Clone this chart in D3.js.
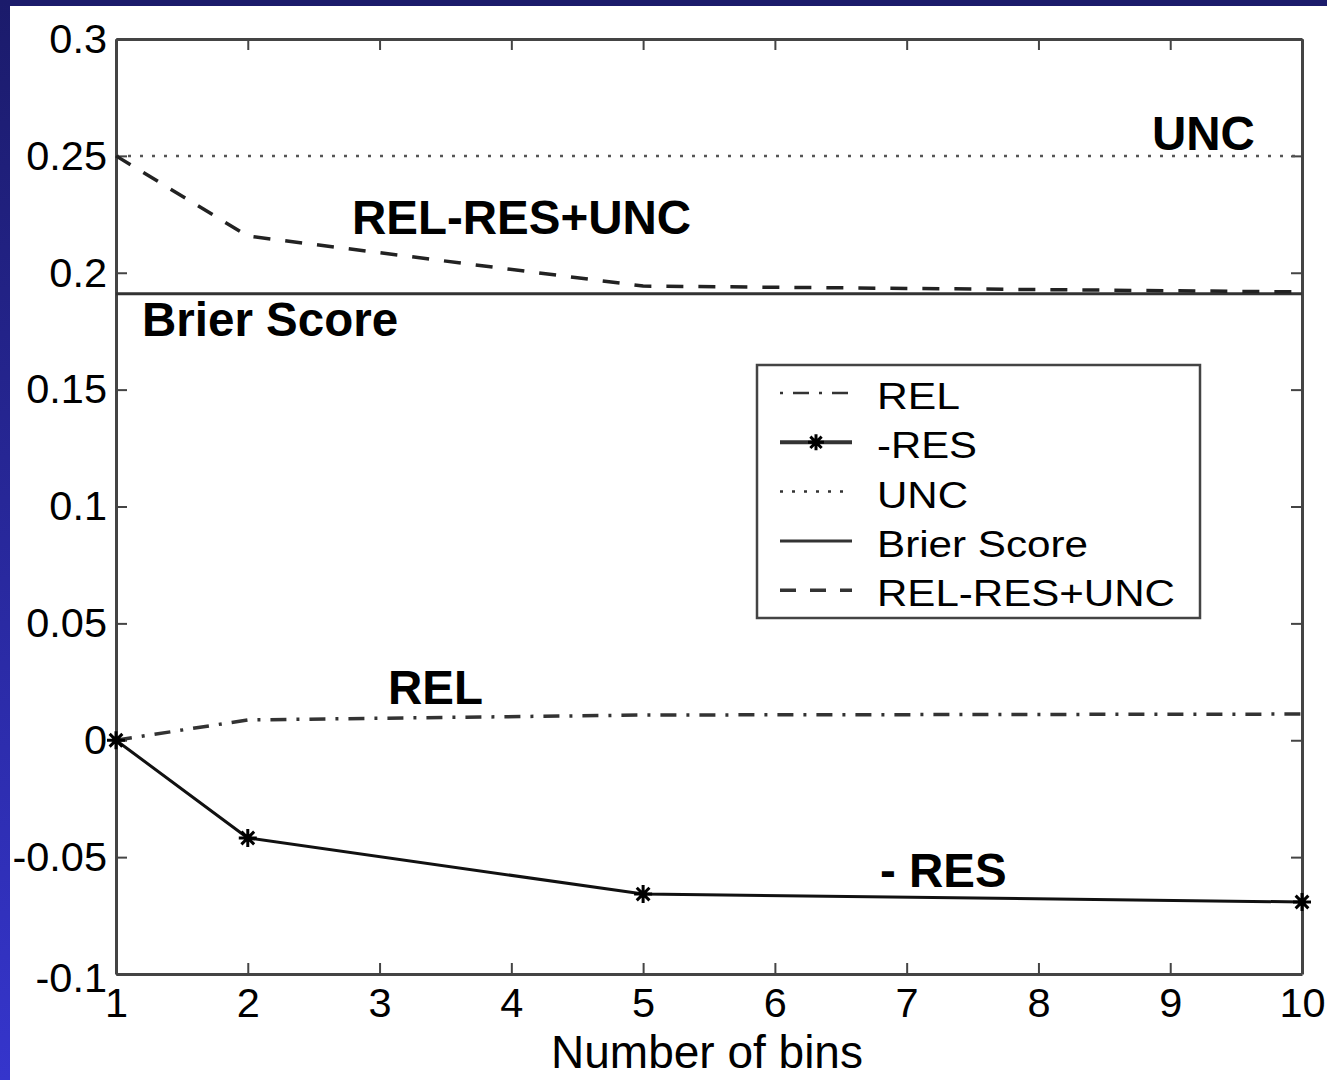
<!DOCTYPE html>
<html>
<head>
<meta charset="utf-8">
<script src="https://cdn.jsdelivr.net/npm/d3@7"></script>
<style>
  body { margin: 0; background: #fff; }
  svg { display: block; font-family: "Liberation Sans", Arial, sans-serif; }
</style>
</head>
<body>
<svg id="chart"></svg>
<script>
'use strict';

var width = 1327;
var height = 1080;

// data
var bins = [1, 2, 5, 10];
var rel_values = [0, 0.0087, 0.0108, 0.0112];
var res_values = [0, -0.0418, -0.0658, -0.0692];
var unc_values = [0.25, 0.25, 0.25, 0.25];
var brier_values = [0.191, 0.191, 0.191, 0.191];
var sum_values = [0.25, 0.2157, 0.1943, 0.1918];

var x_ticks = [1, 2, 3, 4, 5, 6, 7, 8, 9, 10];
var y_ticks = [-0.1, -0.05, 0, 0.05, 0.1, 0.15, 0.2, 0.25, 0.3];
var y_tick_labels = ['-0.1', '-0.05', '0', '0.05', '0.1', '0.15', '0.2', '0.25', '0.3'];

var legend_names = ['REL', '-RES', 'UNC', 'Brier Score', 'REL-RES+UNC'];
var legend_widths = [83, 100, 91, 211, 298];

var svg = d3.select('#chart').attr('width', width).attr('height', height);

// blue frame of the slide
var defs = svg.append('defs');
var grad = defs.append('linearGradient').attr('id', 'side').attr('x1', 0).attr('y1', 0).attr('x2', 0).attr('y2', 1);
grad.append('stop').attr('offset', 0).attr('stop-color', '#1b1b6b');
grad.append('stop').attr('offset', 1).attr('stop-color', '#3535cc');
svg.append('rect').attr('width', width).attr('height', height).attr('fill', '#fff');
svg.append('rect').attr('width', width).attr('height', 6).attr('fill', '#1b1b6b');
svg.append('rect').attr('width', 10).attr('height', height).attr('fill', 'url(#side)');

var x = d3.scaleLinear().domain([1, 10]).range([116, 1302]);
var y = d3.scaleLinear().domain([-0.1, 0.3]).range([974, 39]);

var axis_color = '#444';

function styleAxis(g) {
    g.select('.domain').attr('stroke', axis_color).attr('stroke-width', 3);
    g.selectAll('.tick line').attr('stroke', axis_color).attr('stroke-width', 2);
    g.selectAll('.tick text').attr('fill', '#000').style('font-size', '41.5px')
        .style('font-family', '"Liberation Sans", Arial, sans-serif');
}

svg.append('g').attr('transform', 'translate(0,' + y(-0.1) + ')')
    .call(d3.axisBottom(x).tickValues(x_ticks).tickSize(-11).tickSizeOuter(0).tickPadding(14).tickFormat(d3.format('d')))
    .call(styleAxis);
svg.append('g').attr('transform', 'translate(0,' + y(0.3) + ')')
    .call(d3.axisTop(x).tickValues(x_ticks).tickSize(-11).tickSizeOuter(0).tickFormat(''))
    .call(styleAxis);
var y_axis = svg.append('g').attr('transform', 'translate(' + x(1) + ',0)')
    .call(d3.axisLeft(y).tickValues(y_ticks).tickSize(-11).tickSizeOuter(0).tickPadding(9)
        .tickFormat(function (d, i) { return y_tick_labels[i]; }))
    .call(styleAxis);
// matlab drops the lowest label a little
y_axis.selectAll('.tick text').filter(function (d) { return d === -0.1; }).attr('y', 4);
svg.append('g').attr('transform', 'translate(' + x(10) + ',0)')
    .call(d3.axisRight(y).tickValues(y_ticks).tickSize(-11).tickSizeOuter(0).tickFormat(''))
    .call(styleAxis);

svg.append('text').attr('x', (x(1) + x(10)) / 2 - 2).attr('y', 1068).attr('text-anchor', 'middle')
    .style('font-size', '46px').text('Number of bins');

var line = d3.line().x(function (d) { return x(d[0]); }).y(function (d) { return y(d[1]); });

function pairs(values) {
    return bins.map(function (b, i) { return [b, values[i]]; });
}

var series = [
    { values: unc_values, dash: '3,9', width: 2.5, color: '#555' },
    { values: brier_values, dash: null, width: 3, color: '#333' },
    { values: sum_values, dash: '17,15', width: 3.5, color: '#222' },
    { values: rel_values, dash: '16,10,3,10', width: 3.5, color: '#333' },
    { values: res_values, dash: null, width: 3, color: '#111' }
];

series.forEach(function (s) {
    svg.append('path').datum(pairs(s.values)).attr('d', line)
        .attr('fill', 'none').attr('stroke', s.color).attr('stroke-width', s.width)
        .attr('stroke-dasharray', s.dash);
});

function star(g, cx, cy, r) {
    var p = '';
    [0, 45, 90, 135].forEach(function (a) {
        var dx = r * Math.cos(a * Math.PI / 180);
        var dy = r * Math.sin(a * Math.PI / 180);
        p += 'M' + (cx - dx) + ',' + (cy - dy) + 'L' + (cx + dx) + ',' + (cy + dy);
    });
    g.append('path').attr('d', p).attr('stroke', '#000').attr('stroke-width', 3).attr('fill', 'none');
}

var markers = svg.append('g');
pairs(res_values).forEach(function (d) { star(markers, x(d[0]), y(d[1]), 9); });

// annotations
var notes = [
    { text: 'UNC', x: 1152, y: 150 },
    { text: 'REL-RES+UNC', x: 352, y: 234 },
    { text: 'Brier Score', x: 142, y: 336 },
    { text: 'REL', x: 388, y: 704 },
    { text: '- RES', x: 880, y: 887 }
];
svg.selectAll('.note').data(notes).enter().append('text').attr('class', 'note')
    .attr('x', function (d) { return d.x; }).attr('y', function (d) { return d.y; })
    .style('font-size', '47.5px').style('font-weight', 'bold').text(function (d) { return d.text; });

// legend
var legend = svg.append('g');
legend.append('rect').attr('x', 757).attr('y', 365).attr('width', 443).attr('height', 253)
    .attr('fill', '#fff').attr('stroke', axis_color).attr('stroke-width', 2.5);

var legend_styles = [
    { dash: '3,10,16,10', width: 2.5 },
    { dash: null, width: 4, star: true },
    { dash: '3,9', width: 2.5 },
    { dash: null, width: 3 },
    { dash: '16,14', width: 3.5 }
];

legend_names.forEach(function (name, i) {
    var cy = 393 + i * 49.3;
    legend.append('line').attr('x1', 780).attr('x2', 852).attr('y1', cy).attr('y2', cy)
        .attr('stroke', '#333').attr('stroke-width', legend_styles[i].width)
        .attr('stroke-dasharray', legend_styles[i].dash);
    if (legend_styles[i].star) star(legend, 816, cy, 8);
    legend.append('text').attr('x', 877).attr('y', cy + 16)
        .attr('textLength', legend_widths[i]).attr('lengthAdjust', 'spacingAndGlyphs')
        .style('font-size', '36px').text(name);
});
</script>
</body>
</html>
